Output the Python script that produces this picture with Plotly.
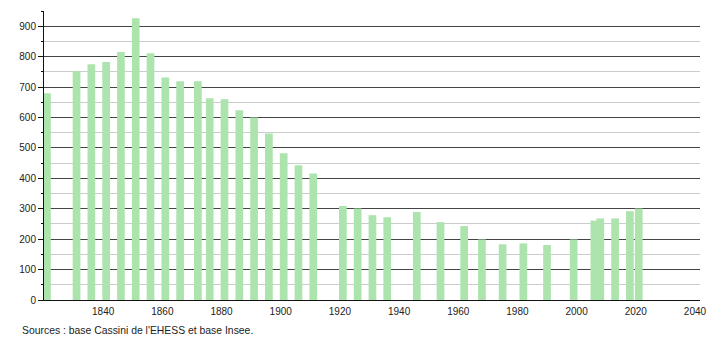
import plotly.graph_objects as go

years = [1821, 1831, 1836, 1841, 1846, 1851, 1856, 1861, 1866, 1872, 1876, 1881,
         1886, 1891, 1896, 1901, 1906, 1911, 1921, 1926, 1931, 1936, 1946, 1954,
         1962, 1968, 1975, 1982, 1990, 1999, 2006, 2008, 2013, 2018, 2021]
population = [680, 752, 775, 782, 815, 926, 811, 731, 719, 719, 663, 660,
              624, 600, 547, 482, 443, 416, 309, 301, 279, 272, 289, 256,
              243, 199, 183, 186, 181, 199, 261, 268, 268, 292, 301]

x_ticks = [1840, 1860, 1880, 1900, 1920, 1940, 1960, 1980, 2000, 2020, 2040]
y_ticks = [0, 100, 200, 300, 400, 500, 600, 700, 800, 900]
source_text = "Sources : base Cassini de l'EHESS et base Insee."

fig = go.Figure()
fig.add_trace(go.Bar(
    x=years, y=population, width=2.6,
    marker=dict(color="#ade3ad", line=dict(width=0)),
    hoverinfo="x+y",
))

font_family = "Liberation Sans, Arial, sans-serif"

fig.update_layout(
    width=710, height=340,
    margin=dict(l=44, r=10, t=11, b=40, autoexpand=False),
    paper_bgcolor="white", plot_bgcolor="white",
    showlegend=False,
    font=dict(family=font_family, size=10, color="#222222"),
    xaxis=dict(
        range=[1820, 2041.7], automargin=False,
        tickmode="array", tickvals=x_ticks, ticktext=[str(v) for v in x_ticks],
        showgrid=False, zeroline=False,
        showline=True, linecolor="#111111", linewidth=1,
        ticks="", ticklabelstandoff=2,
        tickfont=dict(size=10, color="#222222"),
    ),
    yaxis=dict(
        range=[0, 950], automargin=False,
        tickmode="array", tickvals=y_ticks, ticktext=[str(v) for v in y_ticks],
        showgrid=True, gridcolor="#444444", gridwidth=1,
        zeroline=False,
        showline=True, linecolor="#111111", linewidth=1,
        ticks="outside", ticklen=5, tickcolor="#111111",
        tickfont=dict(size=10, color="#222222"),
        minor=dict(tickvals=[50, 150, 250, 350, 450, 550, 650, 750, 850, 950],
                   showgrid=True, gridcolor="#cccccc", gridwidth=1,
                   ticks="outside", ticklen=2, tickcolor="#111111"),
    ),
    annotations=[dict(
        text=source_text, xref="paper", yref="paper",
        x=-24/656, y=-30/289, xanchor="left", yanchor="middle",
        showarrow=False, font=dict(size=10.4, color="#222222", family=font_family),
    )],
)

fig.write_html("out.html")
